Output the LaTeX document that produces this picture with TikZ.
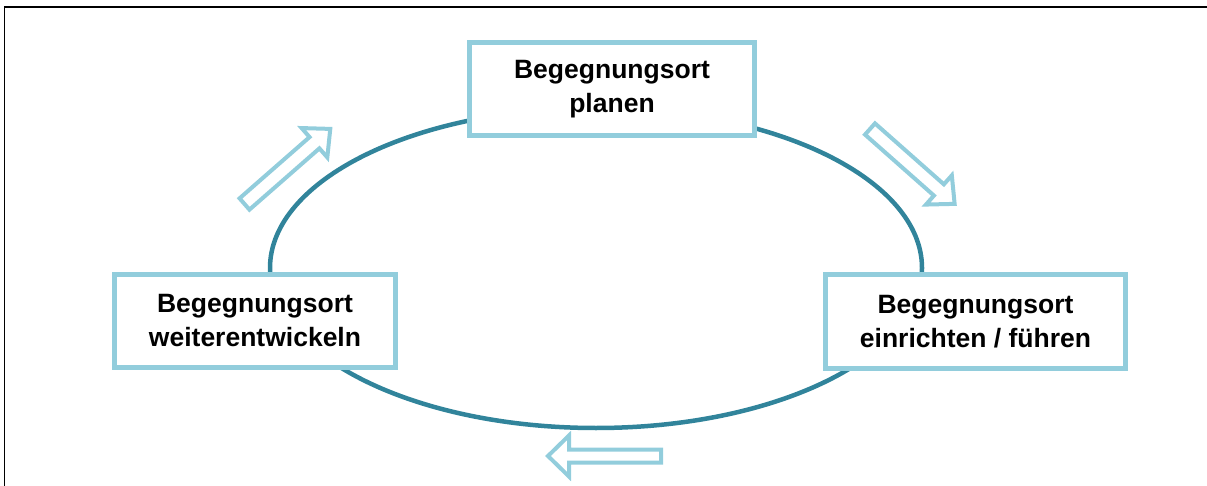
\documentclass[tikz,border=0pt]{standalone}
\usepackage{fontspec}
\setmainfont{Liberation Sans}
\definecolor{ringteal}{HTML}{31849B}
\definecolor{boxblue}{HTML}{92CDDC}
\tikzset{
  x=1pt, y=-1pt,
  stagebox/.style={draw=boxblue, line width=4.5pt, fill=white, align=center,
    font=\fontsize{26.5}{34}\selectfont\bfseries, inner sep=0pt},
  ring/.style={draw=ringteal, line width=4.5pt},
  hollowarrow/.style={draw=boxblue, line width=4pt, fill=white, line join=miter},
  frameline/.style={draw=black, line width=1.5pt},
  pics/blockarrow/.style n args={4}{code={
    % #1 length, #2 half shaft, #3 half head, #4 head length
    \path[hollowarrow] (0,-#2) -- (#1-#4,-#2) -- (#1-#4,-#3) -- (#1,0)
      -- (#1-#4,#3) -- (#1-#4,#2) -- (0,#2) -- cycle;
  }}
}
\begin{document}
\begin{tikzpicture}
\useasboundingbox (0,0) rectangle (1207,486);
% frame (only top and left edges visible)
\draw[frameline] (4.5,1000) |- (1300,7);
% cycle ring
\path[ring] (596,268) ellipse [x radius=326, y radius=160];
% stage boxes
\node[stagebox, minimum width=285pt, minimum height=93pt] (plan) at (612,89)
  {Begegnungsort\\planen};
\node[stagebox, minimum width=300pt, minimum height=94pt] (run) at (975.5,321.5)
  {Begegnungsort\\einrichten / führen};
\node[stagebox, minimum width=281pt, minimum height=93pt] (dev) at (255,321)
  {Begegnungsort\\weiterentwickeln};
% direction arrows
\pic[rotate=41.2] at (244.5,204) {blockarrow={114}{7.5}{19.5}{21}};
\pic[rotate=-41.5] at (870,129) {blockarrow={113}{7.5}{19.5}{21}};
\pic[rotate=180] at (661,456) {blockarrow={113}{6.5}{20.5}{21}};
\end{tikzpicture}
\end{document}
